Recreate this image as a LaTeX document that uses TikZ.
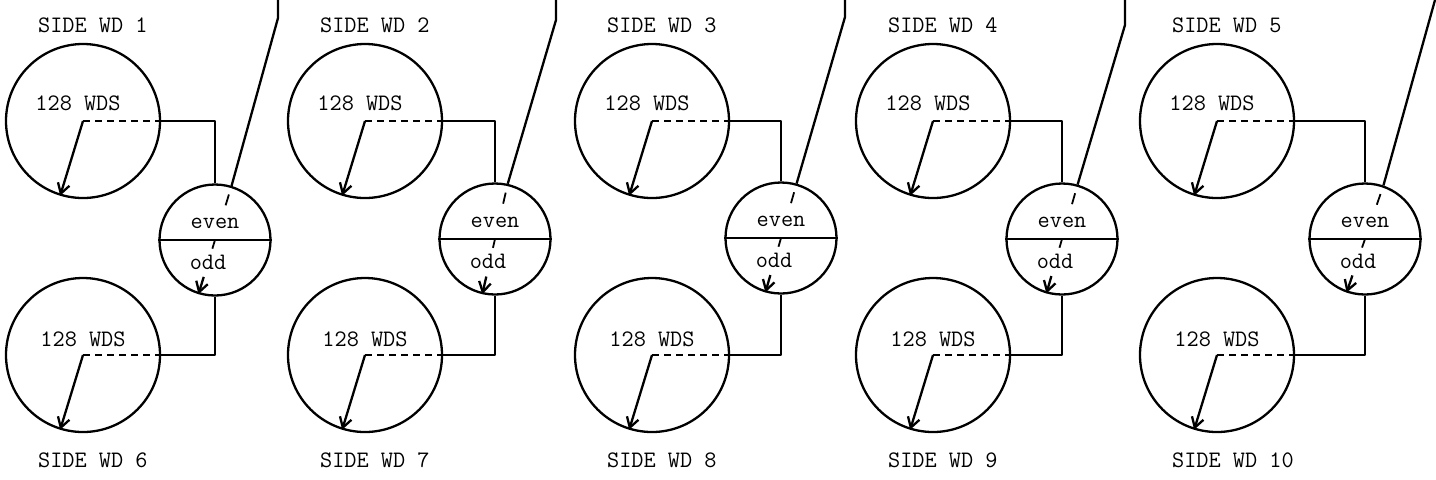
\documentclass[tikz,border=0pt]{standalone}
\usepackage{fontspec}
\usetikzlibrary{arrows.meta,calc}
\begin{document}
\begin{tikzpicture}[x=0.5pt,y=-0.5pt,
  line width=1.15pt, line join=round,
  every node/.style={font=\ttfamily\fontsize{11.8}{14}\selectfont, inner sep=1pt},
  disk/.style={circle, draw, minimum size=77pt, inner sep=0pt},
  sel/.style={circle, draw, minimum size=55.5pt, inner sep=0pt},
  dashln/.style={dash pattern=on 3.5pt off 2.5pt},
  ptr/.style={-{Straight Barb[length=5pt,width=6pt]}},
  lbl/.style={inner sep=0.5pt}]
\useasboundingbox (0,0) rectangle (1436,479);
\fill[white] (0,0) rectangle (1436,479);
\foreach \i/\j/\bx/\sx/\sy/\tx/\ty/\ang in {1/6/83/215/240/278/18/73, 2/7/365/495/239/556/20/77, 3/8/652/781/238/845/17/74, 4/9/933/1062/239/1125/25/74, 5/10/1217/1365/239/1435/0/71}{
  \pgfmathtruncatemacro\opp{\ang+180}
  \node[disk] (t\i) at (\bx,121) {};
  \node[disk] (b\i) at (\bx,355) {};
  \node[sel] (s\i) at (\sx,\sy) {};
  \draw (s\i.west) -- (s\i.east);
  \draw[dashln] (t\i.center) -- (t\i.east);
  \draw[ptr] (t\i.center) -- (t\i.253);
  \draw[dashln] (b\i.center) -- (b\i.east);
  \draw[ptr] (b\i.center) -- (b\i.253);
  \draw (t\i.east) -| (s\i.north);
  \draw (b\i.east) -| (s\i.south);
  \coordinate (p\i) at (\tx,-2);
  \coordinate (q\i) at (\tx,\ty);
  \draw (p\i) -- (q\i) -- (s\i.\ang);
  \draw[line width=0.9pt] ($(s\i.\ang)!0.08!(s\i.\opp)$) -- ($(s\i.\ang)!0.18!(s\i.\opp)$);
  \draw[line width=0.9pt] ($(s\i.\ang)!0.5!(s\i.\opp)$) -- ($(s\i.\ang)!0.58!(s\i.\opp)$);
  \draw[ptr] ($(s\i.\ang)!0.84!(s\i.\opp)$) -- (s\i.\opp);
  \node[lbl] (e\i) at (\sx,\sy-17) {even};
  \node[lbl] (o\i) at (\sx-7,\sy+22) {odd};
  \node (w\i) at (\bx-5,103) {128 WDS};
  \node (v\i) at (\bx,339) {128 WDS};
  \node[anchor=west] (l\i) at (\bx-48,25) {SIDE WD \i};
  \node[anchor=west] (k\i) at (\bx-48,460) {SIDE WD \j};
}
\end{tikzpicture}
\end{document}
